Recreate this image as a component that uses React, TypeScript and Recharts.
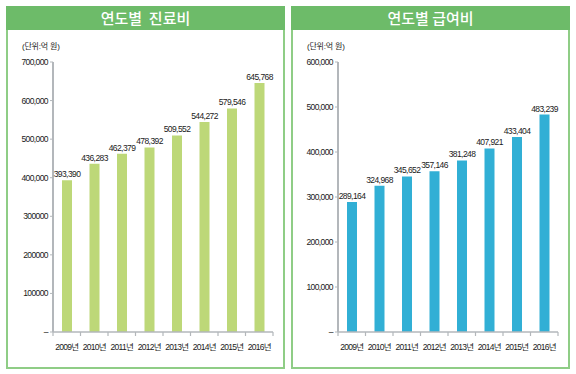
import { BarChart, Bar, XAxis, YAxis, LabelList } from 'recharts';

const years = ['2009년', '2010년', '2011년', '2012년', '2013년', '2014년', '2015년', '2016년'];

// 진료비 (단위: 억 원)
const careCost = [393390, 436283, 462379, 478392, 509552, 544272, 579546, 645768];
// 급여비 (단위: 억 원)
const benefitCost = [289164, 324968, 345652, 357146, 381248, 407921, 433404, 483239];

const careTicks = [0, 100000, 200000, 300000, 400000, 500000, 600000, 700000];
const careTickLabels = ['–', '100000', '200000', '300000', '400,000', '500,000', '600,000', '700,000'];
const benefitTicks = [0, 100000, 200000, 300000, 400000, 500000, 600000];
const benefitTickLabels = ['–', '100,000', '200,000', '300,000', '400,000', '500,000', '600,000'];

const FONT = '"Liberation Sans", "Noto Sans CJK KR", sans-serif';
const TEXT = '#1a1a1a';
const AXIS = '#b3b7bb';

function YearTick(props: any) {
  const { x, y, payload, index } = props;
  const half = payload?.offset ?? 13.75;
  const last = index === years.length - 1;
  return (
    <g>
      <line x1={x - half} x2={x - half} y1={y} y2={y + 4} stroke={AXIS} strokeWidth={1.2} />
      {last && <line x1={x + half} x2={x + half} y1={y} y2={y + 4} stroke={AXIS} strokeWidth={1.2} />}
      <text x={x} y={y + 18} textAnchor="middle" fontSize={8.5} letterSpacing={-0.7} fill={TEXT} fontFamily={FONT}>
        {payload.value}
      </text>
    </g>
  );
}

interface PanelProps {
  left: number;
  title: string;
  values: number[];
  color: string;
  ticks: number[];
  tickLabels: string[];
}

function Panel({ left, title, values, color, ticks, tickLabels }: PanelProps) {
  const data = years.map((year, i) => ({ year, value: values[i] }));
  const fmtTick = (v: number) => tickLabels[ticks.indexOf(v)] ?? '';

  return (
    <>
      <div
        style={{
          position: 'absolute',
          left: left + 6,
          top: 6,
          width: 279,
          height: 363,
          boxSizing: 'border-box',
          border: '2px solid #8fcd86',
        }}
      >
        <div
          style={{
            height: 24,
            marginTop: -2,
            marginLeft: -2,
            marginRight: -2,
            background: '#6dbb69',
            color: '#fff',
            fontFamily: '"Noto Sans CJK KR", sans-serif',
            fontSize: 15,
            fontWeight: 500,
            lineHeight: '24px',
            textAlign: 'center',
            whiteSpace: 'pre',
          }}
        >
          {title}
        </div>
      </div>
      <div
        style={{
          position: 'absolute',
          left: left + 22,
          top: 40,
          fontSize: 8,
          letterSpacing: -0.2,
          fontFamily: FONT,
          color: TEXT,
        }}
      >
        (단위:억 원)
      </div>
      <div style={{ position: 'absolute', left, top: 0 }}>
        <BarChart
          width={290}
          height={374}
          data={data}
          margin={{ top: 62, right: 17, bottom: 0, left: 0 }}
          barSize={10}
        >
          <XAxis
            dataKey="year"
            axisLine={{ stroke: AXIS, strokeWidth: 1.5 }}
            tickLine={false}
            tickSize={0}
            tickMargin={0}
            interval={0}
            tick={<YearTick />}
            height={42}
          />
          <YAxis
            width={53}
            domain={[0, ticks[ticks.length - 1]]}
            ticks={ticks}
            interval={0}
            tickFormatter={fmtTick}
            axisLine={{ stroke: AXIS, strokeWidth: 2 }}
            tickLine={{ stroke: AXIS }}
            tickSize={3}
            tickMargin={2}
            tick={{ fontSize: 8.5, fill: TEXT, fontFamily: FONT, letterSpacing: -0.6 }}
          />
          <Bar dataKey="value" fill={color} isAnimationActive={false}>
            <LabelList
              dataKey="value"
              position="top"
              offset={3}
              formatter={(v: number) => v.toLocaleString('en-US')}
              style={{ fontSize: 8.5, fill: TEXT, fontFamily: FONT, letterSpacing: -0.6 }}
            />
          </Bar>
        </BarChart>
      </div>
    </>
  );
}

export default function App() {
  return (
    <div style={{ position: 'absolute', left: 0, top: 0, width: 576, height: 374, background: '#fff', overflow: 'hidden' }}>
      <Panel
        left={0}
        title={'연도별  진료비'}
        values={careCost}
        color="#bdd878"
        ticks={careTicks}
        tickLabels={careTickLabels}
      />
      <Panel
        left={285}
        title="연도별 급여비"
        values={benefitCost}
        color="#31afd5"
        ticks={benefitTicks}
        tickLabels={benefitTickLabels}
      />
    </div>
  );
}
